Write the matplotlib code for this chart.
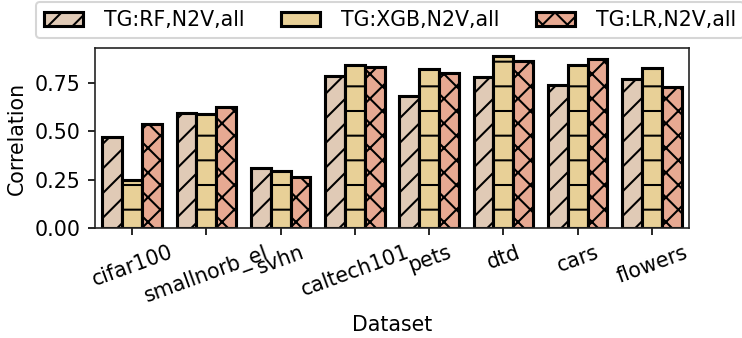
import matplotlib
matplotlib.use("Agg")
import matplotlib.pyplot as plt
import numpy as np

datasets = ["cifar100", "smallnorb_el", "svhn", "caltech101", "pets", "dtd", "cars", "flowers"]
series = ["TG:RF,N2V,all", "TG:XGB,N2V,all", "TG:LR,N2V,all"]
rf_vals = [0.468, 0.592, 0.309, 0.785, 0.683, 0.781, 0.737, 0.771]
xgb_vals = [0.250, 0.587, 0.295, 0.842, 0.819, 0.888, 0.842, 0.825]
lr_vals = [0.536, 0.626, 0.261, 0.830, 0.802, 0.864, 0.873, 0.726]

colors = ["#e0cab6", "#e8d097", "#e7a992"]
hatches = ["//", "-", "xx"]

DPI = 148
plt.rcParams["hatch.linewidth"] = 1.0
plt.rcParams["font.size"] = 10
fig = plt.figure(figsize=(742 / DPI, 338 / DPI), dpi=DPI)
ax = fig.add_axes([95 / 742, 1 - 228 / 338, 594 / 742, 180 / 338])

x = np.arange(len(datasets))
w = 0.8 / 3
for i, vals in enumerate([rf_vals, xgb_vals, lr_vals]):
    ax.bar(x + (i - 1) * w, vals, w, color=colors[i], edgecolor="black",
           linewidth=1.5, hatch=hatches[i], label=series[i])

ax.set_xlim(-0.5, len(datasets) - 0.5)
ax.set_ylim(0, 0.93)
ax.set_yticks([0, 0.25, 0.5, 0.75])
ax.set_xticks(x)
ax.set_xticklabels(datasets, rotation=20)
ax.tick_params(width=0.8, length=3.5)
ax.set_xlabel("Dataset")
ax.set_ylabel("Correlation")
for s in ax.spines.values():
    s.set_linewidth(0.8)
    s.set_color("#222222")

fig.legend(loc="upper left", bbox_to_anchor=(36 / 742, 1 - 2 / 338), ncol=3,
           frameon=True, handlelength=1.9, handletextpad=1.0,
           columnspacing=1.8, borderaxespad=0)

fig.savefig("out.png", dpi=DPI)
